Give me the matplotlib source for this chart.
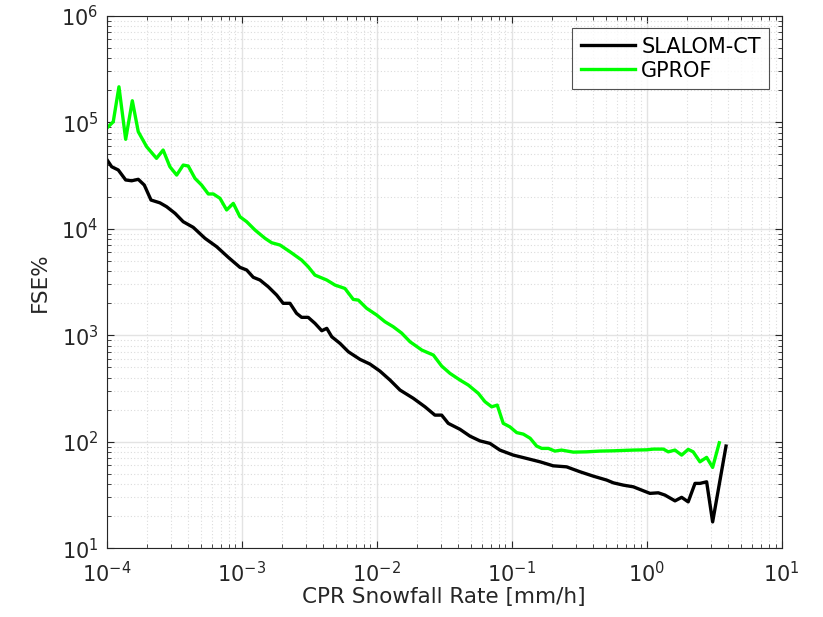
import numpy as np
import matplotlib
matplotlib.use("Agg")
import matplotlib.pyplot as plt
from matplotlib.ticker import LogLocator, NullFormatter

# values (CPR snowfall rate [mm/h], FSE %)
slalom_x = [1.0e-4, 1.089e-4, 1.219e-4, 1.383e-4, 1.532e-4, 1.714e-4, 1.90e-4, 2.13e-4,
            2.48e-4, 2.78e-4, 3.21e-4, 3.69e-4, 4.38e-4, 5.35e-4, 6.53e-4, 7.96e-4,
            9.71e-4, 1.089e-3, 1.219e-3, 1.367e-3, 1.575e-3, 1.816e-3, 2.03e-3, 2.28e-3,
            2.55e-3, 2.78e-3, 3.11e-3, 3.49e-3, 3.92e-3, 4.27e-3, 4.65e-3, 5.35e-3,
            6.17e-3, 7.52e-3, 8.91e-3, 1.057e-2, 1.255e-2, 1.489e-2, 1.868e-2, 2.28e-2,
            2.70e-2, 3.03e-2, 3.39e-2, 4.14e-2, 4.91e-2, 5.82e-2, 6.90e-2, 8.18e-2,
            0.1028, 0.129, 0.162, 0.203, 0.255, 0.321, 0.402, 0.506, 0.566, 0.671,
            0.796, 0.944, 1.058, 1.219, 1.366, 1.621, 1.816, 2.03, 2.28, 2.48, 2.78,
            3.08, 3.87]
slalom_y = [44900, 38200, 35600, 28700, 28200, 29100, 25700, 18600,
            17500, 16100, 13950, 11640, 10300, 8130, 6780, 5390,
            4340, 4100, 3500, 3300, 2850, 2385, 1995, 1995,
            1607, 1473, 1473, 1294, 1103, 1161, 968, 839,
            700, 594, 537, 461, 380, 306, 256, 213,
            178, 178, 149, 131, 113, 102, 96.6, 83.6,
            75.0, 69.8, 64.9, 59.5, 58.2, 52.3, 47.6, 43.7, 41.2, 39.2,
            37.8, 34.7, 32.8, 33.2, 31.6, 27.9, 30.1, 27.3, 40.7, 40.7, 42.1,
            17.7, 91.2]

gprof_x = [1.0e-4, 1.119e-4, 1.233e-4, 1.383e-4, 1.549e-4, 1.714e-4, 1.977e-4, 2.34e-4,
           2.62e-4, 2.94e-4, 3.30e-4, 3.69e-4, 4.02e-4, 4.51e-4, 5.05e-4, 5.66e-4,
           6.17e-4, 6.91e-4, 7.74e-4, 8.67e-4, 9.71e-4, 1.089e-3, 1.256e-3, 1.489e-3,
           1.667e-3, 1.923e-3, 2.28e-3, 2.78e-3, 3.11e-3, 3.49e-3, 4.27e-3, 4.91e-3,
           5.82e-3, 6.71e-3, 7.31e-3, 8.43e-3, 1.0e-2, 1.152e-2, 1.327e-2, 1.53e-2,
           1.766e-2, 2.16e-2, 2.63e-2, 3.03e-2, 3.49e-2, 4.14e-2, 4.77e-2, 5.66e-2,
           6.34e-2, 7.11e-2, 7.82e-2, 8.66e-2, 9.71e-2, 0.1089, 0.122, 0.137, 0.153,
           0.167, 0.187, 0.209, 0.234, 0.286, 0.359, 0.451, 0.566, 0.796, 1.0, 1.12,
           1.33, 1.445, 1.62, 1.816, 2.03, 2.21, 2.48, 2.78, 3.08, 3.45]
gprof_y = [87700, 101000, 215000, 69100, 159000, 81500, 58900, 45800,
           54800, 38200, 31900, 39600, 38800, 29700, 25700, 21200,
           21200, 19300, 15000, 17300, 12960, 11640, 9720, 8130,
           7390, 7030, 6080, 5080, 4400, 3670, 3300, 2960,
           2750, 2170, 2140, 1790, 1549, 1340, 1202, 1049,
           869, 726, 652, 514, 439, 380, 341, 285,
           238, 213, 221, 149, 138, 122, 118, 108, 91.2,
           86.7, 86.7, 81.8, 83.6, 80.0, 80.5, 81.8, 82.3, 83.6, 84.1, 85.4,
           85.4, 80.5, 83.6, 75.0, 84.9, 80.5, 64.9, 71.4, 57.5, 97.9]

txt = "#262626"
plt.rcParams["font.family"] = "DejaVu Sans"

fig = plt.figure(figsize=(8.23, 6.17), dpi=100)
ax = fig.add_axes([0.1296, 0.1113, 0.8202, 0.8633])

ax.plot(slalom_x, slalom_y, color="black", lw=2.4, label="SLALOM-CT")
ax.plot(gprof_x, gprof_y, color="#00ff00", lw=2.4, label="GPROF")

ax.set_xscale("log")
ax.set_yscale("log")
ax.set_xlim(1e-4, 1e1)
ax.set_ylim(1e1, 1e6)

ax.xaxis.set_major_locator(LogLocator(base=10, numticks=10))
ax.yaxis.set_major_locator(LogLocator(base=10, numticks=10))
for a in (ax.xaxis, ax.yaxis):
    a.set_minor_locator(LogLocator(base=10, subs=np.arange(2, 10), numticks=20))
    a.set_minor_formatter(NullFormatter())

ax.grid(True, which="major", color="#e3e3e3", lw=1.0, ls="-")
ax.grid(True, which="minor", color="#dcdcdc", lw=0.8, ls=(0, (1, 2)))
ax.set_axisbelow(True)

ax.tick_params(which="both", direction="in", top=True, right=True, colors=txt,
               labelsize=15, labelcolor=txt)
ax.tick_params(which="major", length=5, width=0.8)
ax.tick_params(which="minor", length=3, width=0.6)
ax.tick_params(axis="x", which="major", pad=9)
ax.tick_params(axis="y", which="major", pad=6)
for s in ax.spines.values():
    s.set_color(txt)
    s.set_linewidth(0.8)

ax.set_xlabel("CPR Snowfall Rate [mm/h]", fontsize=15.5, color=txt, labelpad=1)
ax.set_ylabel("FSE%", fontsize=15.5, color=txt, labelpad=8)

leg = ax.legend(loc="upper right", fontsize=15, frameon=True, fancybox=False,
                handlelength=2.6, handletextpad=0.3, borderpad=0.4,
                labelspacing=0.2, borderaxespad=0.6)
leg.get_frame().set_edgecolor(txt)
leg.get_frame().set_linewidth(0.8)

fig.savefig("out.png", dpi=100)
